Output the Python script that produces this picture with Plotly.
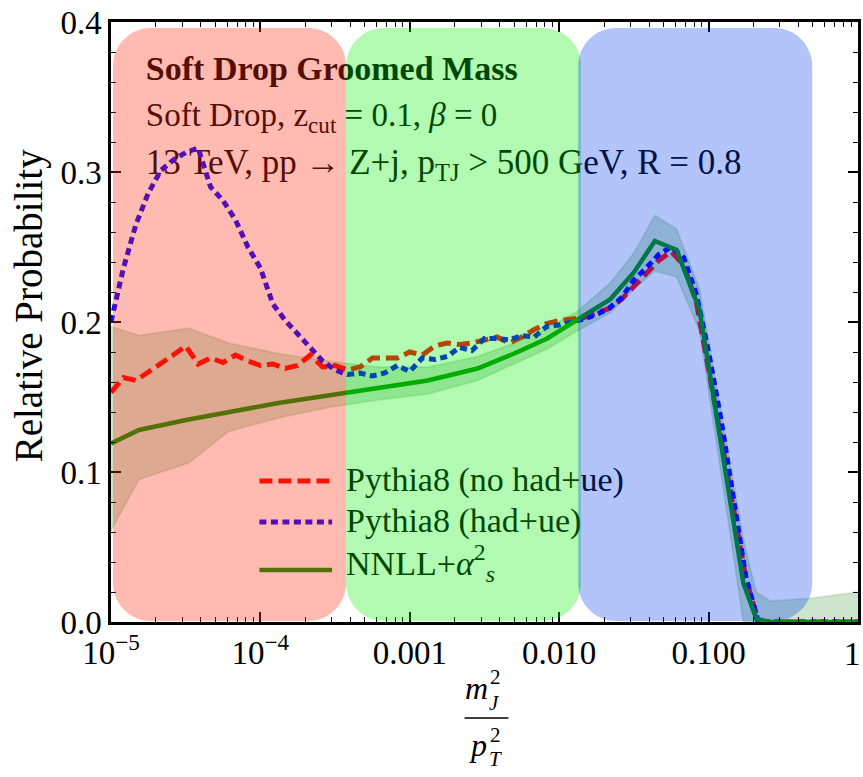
import plotly.graph_objects as go

# ---------------- data ----------------
pythia_x = [1.000e-5, 1.212e-5, 1.468e-5, 1.778e-5, 2.154e-5, 2.610e-5, 3.162e-5, 3.831e-5, 4.642e-5, 5.623e-5, 6.813e-5, 8.254e-5,
            1.000e-4, 1.212e-4, 1.468e-4, 1.778e-4, 2.154e-4, 2.610e-4, 3.162e-4, 3.831e-4, 4.642e-4, 5.623e-4, 6.813e-4, 8.254e-4,
            1.000e-3, 1.212e-3, 1.468e-3, 1.778e-3, 2.154e-3, 2.610e-3, 3.162e-3, 3.831e-3, 4.642e-3, 5.623e-3, 6.813e-3, 8.254e-3,
            1.000e-2, 1.212e-2, 1.468e-2, 1.778e-2, 2.154e-2, 2.610e-2, 3.162e-2, 3.831e-2, 4.642e-2, 5.623e-2, 6.813e-2, 8.254e-2,
            1.000e-1, 1.212e-1, 1.468e-1, 1.778e-1, 2.154e-1, 2.610e-1, 3.162e-1, 3.831e-1, 4.642e-1, 5.623e-1, 6.813e-1, 8.254e-1,
            1.0]

pythia_nohad = [0.153, 0.163, 0.161, 0.167, 0.172, 0.178, 0.184, 0.172, 0.176, 0.173, 0.178, 0.174,
                0.171, 0.172, 0.169, 0.171, 0.178, 0.170, 0.171, 0.168, 0.170, 0.176, 0.176, 0.176,
                0.180, 0.178, 0.184, 0.186, 0.185, 0.186, 0.188, 0.190, 0.186, 0.190, 0.195, 0.199,
                0.201, 0.202, 0.203, 0.206, 0.209, 0.215, 0.224, 0.233, 0.241, 0.247, 0.238, 0.214,
                0.170, 0.123, 0.076, 0.029, 0.0, 0.0, 0.0, 0.0, 0.0, 0.0, 0.0, 0.0,
                0.0]

pythia_had = [0.200, 0.236, 0.265, 0.286, 0.301, 0.308, 0.313, 0.316, 0.290, 0.281, 0.268, 0.250,
              0.236, 0.212, 0.201, 0.192, 0.183, 0.174, 0.168, 0.165, 0.166, 0.164, 0.166, 0.171,
              0.167, 0.176, 0.175, 0.177, 0.183, 0.181, 0.189, 0.189, 0.188, 0.191, 0.190, 0.197,
              0.198, 0.200, 0.202, 0.205, 0.209, 0.216, 0.228, 0.236, 0.245, 0.250, 0.243, 0.219,
              0.180, 0.135, 0.080, 0.030, 0.0, 0.0, 0.0, 0.0, 0.0, 0.0, 0.0, 0.0,
              0.0]

nnll_x = [1.0e-5, 1.54e-5, 3.31e-5, 6.12e-5, 1.32e-4, 2.84e-4, 6.12e-4, 1.32e-3, 2.84e-3, 5.01e-3,
          8.32e-3, 1.32e-2, 2.19e-2, 3.16e-2, 4.37e-2, 6.12e-2, 8.71e-2, 0.171, 0.209, 0.26, 0.5, 1.0]
nnll = [0.119, 0.128, 0.135, 0.140, 0.146, 0.151, 0.156, 0.161, 0.169, 0.179,
        0.189, 0.201, 0.215, 0.233, 0.254, 0.248, 0.208, 0.026, 0.002, 0.0, 0.0, 0.0]
nnll_hi = [0.197, 0.191, 0.196, 0.186, 0.179, 0.174, 0.170, 0.170, 0.177, 0.186,
           0.196, 0.207, 0.226, 0.246, 0.271, 0.262, 0.222, 0.055, 0.020, 0.014, 0.016, 0.020]
nnll_lo = [0.061, 0.095, 0.106, 0.127, 0.136, 0.143, 0.148, 0.152, 0.161, 0.172,
           0.182, 0.194, 0.206, 0.222, 0.234, 0.230, 0.194, 0.0, 0.0, 0.0, 0.0, 0.0]

x_tickvals = [1e-5, 1e-4, 1e-3, 1e-2, 1e-1, 1.0]
x_ticktext = ["10<sup>−5</sup>", "10<sup>−4</sup>", "0.001", "0.010", "0.100", ""]
x_last_label = "1"   # drawn flush with the right edge, as in the reference
x_minor = [m * d for d in [1e-5, 1e-4, 1e-3, 1e-2, 1e-1] for m in range(2, 10)]
y_tickvals = [0.0, 0.1, 0.2, 0.3, 0.4]
y_ticktext = ["0.0", "0.1", "0.2", "0.3", "0.4"]

legend_labels = ["Pythia8 (no had+ue)", "Pythia8 (had+ue)", "NNLL+<i>α</i><sup>2</sup><sub><i>s</i></sub>"]
info_lines = ["<b>Soft Drop Groomed Mass</b>",
              "Soft Drop, z<sub>cut</sub> = 0.1, <i>β</i> = 0",
              "13 TeV, pp → Z+j, p<sub>TJ</sub> &gt; 500 GeV, R = 0.8"]

# ---------------- layout geometry ----------------
W, H = 863, 777
L, R, T, B = 111, 2, 22, 155
PW, PH = W - L - R, H - T - B
FONT = "Liberation Serif"
XMAX = 0.0006  # log10 of the upper x limit (just past 1 so the last tick is kept)


def px(xp):
    return (xp - L) / PW


def py(yp):
    return (H - B - yp) / PH


def data_x(xp):
    return 10 ** (-5 + (5 + XMAX) * (xp - L) / PW)


def data_y(yp):
    return 0.4 * (H - B - yp) / PH


def rrect(x0, x1, y0, y1, r):
    k = 0.5523 * r
    pts = [("M", [(x0 + r, y0)]), ("L", [(x1 - r, y0)]),
           ("C", [(x1 - r + k, y0), (x1, y0 + r - k), (x1, y0 + r)]),
           ("L", [(x1, y1 - r)]),
           ("C", [(x1, y1 - r + k), (x1 - r + k, y1), (x1 - r, y1)]),
           ("L", [(x0 + r, y1)]),
           ("C", [(x0 + r - k, y1), (x0, y1 - r + k), (x0, y1 - r)]),
           ("L", [(x0, y0 + r)]),
           ("C", [(x0, y0 + r - k), (x0 + r - k, y0), (x0 + r, y0)])]
    s = ""
    for cmd, ps in pts:
        s += cmd + " " + " ".join(f"{px(a):.5f},{py(b):.5f}" for a, b in ps) + " "
    return s + "Z"


RED = "rgb(255,0,0)"
BLUE = "rgb(0,0,255)"
GREEN = "rgb(0,145,0)"

fig = go.Figure()

# text inside the plot (drawn under the translucent regions so they tint it)
for t, yp, sz in zip(info_lines, [71, 118, 165], [34, 33, 35]):
    fig.add_trace(go.Scatter(x=[data_x(146)], y=[data_y(yp)], mode="text", text=[t],
                             textposition="middle right", cliponaxis=False,
                             textfont=dict(family=FONT, size=sz, color="black"), hoverinfo="skip"))
for t, yp in zip(legend_labels, [482, 523, 566]):
    fig.add_trace(go.Scatter(x=[data_x(347)], y=[data_y(yp)], mode="text", text=[t],
                             textposition="middle right", cliponaxis=False,
                             textfont=dict(family=FONT, size=34, color="black"), hoverinfo="skip"))

# uncertainty band
fig.add_trace(go.Scatter(x=nnll_x, y=nnll_lo, mode="lines", line=dict(color="rgba(0,120,0,0.12)", width=2),
                         hoverinfo="skip"))
fig.add_trace(go.Scatter(x=nnll_x, y=nnll_hi, mode="lines", fill="tonexty", fillcolor="rgba(0,120,0,0.2)",
                         line=dict(color="rgba(0,120,0,0.12)", width=2), hoverinfo="skip"))

fig.add_trace(go.Scatter(x=pythia_x, y=pythia_nohad, mode="lines",
                         line=dict(color=RED, width=5, dash="13px,6px")))
fig.add_trace(go.Scatter(x=pythia_x, y=pythia_had, mode="lines",
                         line=dict(color=BLUE, width=5, dash="7px,4.5px")))
fig.add_trace(go.Scatter(x=nnll_x, y=nnll, mode="lines", line=dict(color=GREEN, width=4.5)))

shapes = []
# legend samples
for yp, col, dash, wd in [(481, RED, "13px,6px", 5), (522, BLUE, "7px,4.5px", 5), (570, GREEN, "solid", 4.5)]:
    shapes.append(dict(type="line", xref="paper", yref="paper", x0=px(260), x1=px(333), y0=py(yp), y1=py(yp),
                       line=dict(color=col, width=wd, dash=dash), layer="above"))
# translucent regions
for x0, x1, col in [(113, 347, "rgba(255,50,20,0.33)"), (347, 583, "rgba(0,235,0,0.3)"),
                    (580, 815, "rgba(0,60,240,0.3)")]:
    shapes.append(dict(type="path", xref="paper", yref="paper", path=rrect(x0, x1, 28, 621, 38),
                       fillcolor=col, line=dict(width=0), layer="above"))
# fraction bar of x title
shapes.append(dict(type="line", xref="paper", yref="paper", x0=px(466), x1=px(510), y0=py(718), y1=py(718),
                   line=dict(color="black", width=1.5)))

ann = []


def a(t, xp, yp, size, xanchor="center", **kw):
    ann.append(dict(text=t, xref="paper", yref="paper", x=px(xp), y=py(yp), showarrow=False,
                    font=dict(family=FONT, size=size, color="black"), xanchor=xanchor, yanchor="middle", **kw))


a("<i>m</i>", 478, 688, 32)
a("2", 497, 677, 21)
a("<i>J</i>", 496, 703, 21)
a("<i>p</i>", 479, 745, 32)
a("2", 497, 735, 21)
a("<i>T</i>", 497, 759, 21)
a("Relative Probability", 29, 305, 39, textangle=-90)
a(x_last_label, 866, 654, 33, xanchor="right")

axis_common = dict(showline=True, linewidth=2.5, linecolor="black", mirror="allticks", ticks="inside",
                   ticklen=10, tickwidth=1.5, tickcolor="black", showgrid=False, zeroline=False,
                   tickfont=dict(family=FONT, size=33, color="black"))

fig.update_layout(
    width=W, height=H, margin=dict(l=L, r=R, t=T, b=B), showlegend=False,
    plot_bgcolor="white", paper_bgcolor="white",
    xaxis=dict(type="log", range=[-5, XMAX], tickmode="array", tickvals=x_tickvals, ticktext=x_ticktext,
               minor=dict(tickmode="array", tickvals=x_minor, ticks="inside", ticklen=5, tickwidth=1.2,
                          tickcolor="black", showgrid=False), **axis_common),
    yaxis=dict(range=[0, 0.4], tickmode="array", tickvals=y_tickvals, ticktext=y_ticktext,
               minor=dict(tickmode="linear", tick0=0, dtick=0.02, ticks="inside", ticklen=5, tickwidth=1.2,
                          tickcolor="black", showgrid=False), **axis_common),
    shapes=shapes, annotations=ann,
)

fig.write_html("out.html")
